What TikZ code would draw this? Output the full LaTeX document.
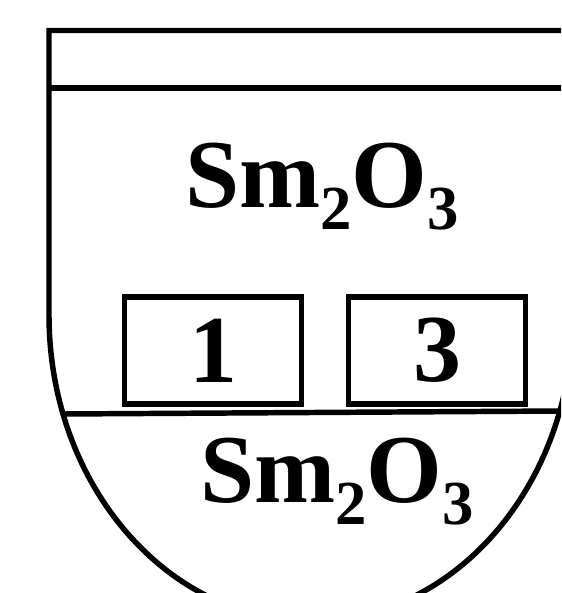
\documentclass[tikz,border=0pt]{standalone}
\usepackage{fontspec}
\setmainfont{Liberation Serif}
\newcommand{\subtxt}[1]{\raisebox{-17pt}{\fontsize{47}{47}\selectfont #1}}
\tikzset{
  wall/.style={line width=4.1pt, line join=miter},
  chem/.style={inner sep=0pt, anchor=base west, font=\fontsize{73}{73}\selectfont\bfseries},
  samplebox/.style={draw, line width=4.1pt, inner sep=0pt, minimum width=132.75pt, minimum height=80.25pt, font=\fontsize{72}{72}\selectfont\bfseries}
}
\begin{document}
\begin{tikzpicture}[x=0.75pt, y=-0.75pt]
\useasboundingbox (0,0) rectangle (561,593);
\clip (0,0) rectangle (561,593);
% crucible outline
\coordinate (tl) at (49,30.5);
\coordinate (tr) at (573,30.5);
\coordinate (ls) at (49,315);
\coordinate (rs) at (573,315);
\coordinate (bot) at (311,621);
\draw[wall] (ls) -- (tl) -- (tr) -- (rs)
  .. controls (573,484) and (455.7,621) .. (bot)
  .. controls (166.3,621) and (49,484) .. (ls);
% lid line
\coordinate (l1a) at (49,88);
\coordinate (l1b) at (573,88);
\draw[wall] (l1a) -- (l1b);
% lower layer line
\coordinate (l2a) at (62.2,414);
\coordinate (l2b) at (560,411);
\draw[wall] (l2a) -- (l2b);
% labels
\node[chem] (top) at (185,207) {Sm\subtxt{2}O\subtxt{3}};
\node[chem] (bottom) at (200,502) {Sm\subtxt{2}O\subtxt{3}};
% samples
\node[samplebox] (s1) at (213,350.5) {1};
\node[samplebox] (s3) at (437,350.5) {3};
\end{tikzpicture}
\end{document}
